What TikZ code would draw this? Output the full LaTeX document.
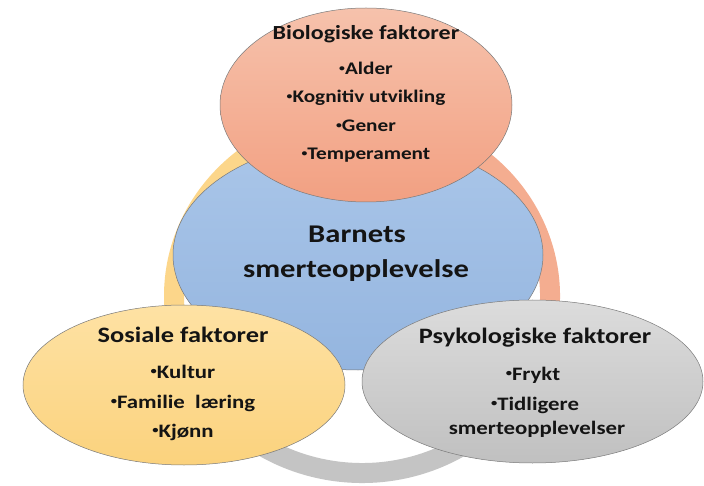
\documentclass[tikz,border=0pt]{standalone}
\usepackage{fontspec}
\setmainfont{Carlito}
\usetikzlibrary{shapes.geometric}
\definecolor{ringY}{HTML}{FCD68A}
\definecolor{ringS}{HTML}{F4AD90}
\definecolor{ringG}{HTML}{C4C4C4}
\definecolor{bioT}{HTML}{F6C2AC}
\definecolor{bioB}{HTML}{F2A082}
\definecolor{bluT}{HTML}{AAC6E9}
\definecolor{bluB}{HTML}{94B5DF}
\definecolor{sosT}{HTML}{FEE2A4}
\definecolor{sosB}{HTML}{FBD27D}
\definecolor{psyT}{HTML}{DCDCDC}
\definecolor{psyB}{HTML}{C0C0C0}
\definecolor{edge}{HTML}{7A7A7A}
\definecolor{ink}{HTML}{141414}
\newcommand\hx[1]{\scalebox{1.2}[1]{#1}}
\newcommand\bul{\raisebox{0.17em}{\scalebox{0.55}{•}}}
\begin{document}
\begin{tikzpicture}[x=1pt,y=-1pt,
  ringseg/.style={line width=20pt},
  blob/.style={ellipse, draw=edge, line width=0.5pt, inner sep=0pt},
  lbl/.style={anchor=base, inner sep=0pt, text=ink},
  ttlbig/.style={lbl, font=\bfseries\fontsize{22}{26}\selectfont},
  ttlbio/.style={lbl, font=\bfseries\fontsize{20}{24}\selectfont},
  itbio/.style={lbl, font=\bfseries\fontsize{17.7}{21}\selectfont},
  itm/.style={lbl, font=\bfseries\fontsize{19}{23}\selectfont},
  mainlbl/.style={lbl, font=\bfseries\fontsize{25.5}{30}\selectfont}]
\useasboundingbox (0,0) rectangle (704,486);
\fill[white] (0,0) rectangle (704,486);
\coordinate (rc) at (362,296);
% ring segments
\draw[ringseg, draw=ringY] ([shift={(90:188pt and 177pt)}]rc) arc[start angle=90, end angle=210, x radius=188pt, y radius=177pt];
\draw[ringseg, draw=ringS] ([shift={(-30:188pt and 177pt)}]rc) arc[start angle=-30, end angle=90, x radius=188pt, y radius=177pt];
\draw[ringseg, draw=ringG] ([shift={(210:188pt and 177pt)}]rc) arc[start angle=210, end angle=330, x radius=188pt, y radius=177pt];
% ellipses
\node[blob, minimum width=370pt, minimum height=230pt, top color=bluT, bottom color=bluB] (blue) at (358,255) {};
\node[blob, minimum width=292pt, minimum height=194pt, top color=bioT, bottom color=bioB] (bio) at (366,105) {};
\node[blob, minimum width=322pt, minimum height=160pt, top color=sosT, bottom color=sosB] (sos) at (184,385) {};
\node[blob, minimum width=341pt, minimum height=163pt, top color=psyT, bottom color=psyB] (psy) at (532.5,381.5) {};
% texts
\node[ttlbio] (bt) at (366,40) {\hx{Biologiske faktorer}};
\node[itbio] (b1) at (366,75) {\hx{\bul Alder}};
\node[itbio] (b2) at (366,103) {\hx{\bul Kognitiv utvikling}};
\node[itbio] (b3) at (366,132) {\hx{\bul Gener}};
\node[itbio] (b4) at (366,160) {\hx{\bul Temperament}};
\node[mainlbl] (m1) at (357,243) {\hx{Barnets}};
\node[mainlbl] (m2) at (356,278) {\hx{smerteopplevelse}};
\node[ttlbig] (st) at (183,342) {\hx{Sosiale faktorer}};
\node[itm] (s1) at (183,378) {\hx{\bul Kultur}};
\node[itm] (s2) at (183,408) {\hx{\bul Familie~ læring}};
\node[itm] (s3) at (183,437) {\hx{\bul Kjønn}};
\node[ttlbig] (pt) at (535,343) {\hx{Psykologiske faktorer}};
\node[itm] (p1) at (533,380) {\hx{\bul Frykt}};
\node[itm] (p2) at (535,410) {\hx{\bul Tidligere}};
\node[itm] (p3) at (537,434) {\hx{smerteopplevelser}};
\end{tikzpicture}
\end{document}
